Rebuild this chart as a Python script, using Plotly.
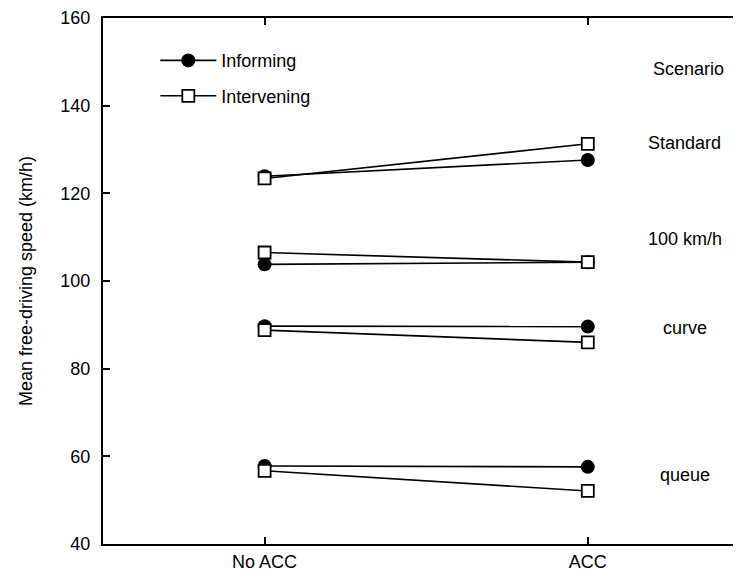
import plotly.graph_objects as go

conditions = ["No ACC", "ACC"]
scenarios = ["Standard", "100 km/h", "curve", "queue"]
informing_no_acc = [123.9, 103.8, 89.7, 57.8]
informing_acc = [127.6, 104.3, 89.6, 57.6]
intervening_no_acc = [123.4, 106.5, 88.8, 56.7]
intervening_acc = [131.3, 104.3, 86.0, 52.1]
scenario_header = "Scenario"
scenario_label_y = [131.5, 109.6, 89.3, 55.7]
header_y = 148.4

def build(no_acc, acc):
    xs, ys = [], []
    for a, b in zip(no_acc, acc):
        xs += [conditions[0], conditions[1], None]
        ys += [a, b, None]
    return xs, ys

FONT = "Liberation Sans, Arial, sans-serif"
fig = go.Figure()
x1, y1 = build(informing_no_acc, informing_acc)
fig.add_trace(go.Scatter(x=x1, y=y1, mode="lines+markers", name="Informing",
                         legendgroup="a",
                         line=dict(color="black", width=1.6),
                         marker=dict(symbol="circle", size=14, color="black",
                                     line=dict(color="black", width=0))))
x2, y2 = build(intervening_no_acc, intervening_acc)
fig.add_trace(go.Scatter(x=x2, y=y2, mode="lines+markers", name="Intervening",
                         legendgroup="b",
                         line=dict(color="black", width=1.6),
                         marker=dict(symbol="square", size=12, color="white",
                                     line=dict(color="black", width=1.8))))

annotations = [dict(x=0.917, y=header_y, xref="paper", yref="y", text=scenario_header,
                    showarrow=False, xanchor="center", yanchor="middle",
                    font=dict(family=FONT, size=18, color="black"))]
for s, yy in zip(scenarios, scenario_label_y):
    annotations.append(dict(x=0.912, y=yy, xref="paper", yref="y", text=s,
                            showarrow=False, xanchor="center", yanchor="middle",
                            font=dict(family=FONT, size=18, color="black")))

fig.update_layout(
    width=733, height=572,
    margin=dict(l=95, r=0, t=10, b=36),
    plot_bgcolor="white", paper_bgcolor="white",
    font=dict(family=FONT, size=18, color="black"),
    showlegend=True,
    legend=dict(x=0.082, y=0.954, xanchor="left", yanchor="top",
                bgcolor="rgba(0,0,0,0)", traceorder="grouped", tracegroupgap=9,
                font=dict(family=FONT, size=18, color="black"),
                itemwidth=56),
    annotations=annotations,
    xaxis=dict(type="category", range=[-0.5, 1.474], showgrid=False, zeroline=False,
               showline=True, linecolor="black", linewidth=2, mirror="ticks",
               ticks="inside", ticklen=7, tickwidth=1.5, tickcolor="black",
               tickfont=dict(family=FONT, size=18)),
    yaxis=dict(range=[40, 160], dtick=20, showgrid=False, zeroline=False,
               showline=True, linecolor="black", linewidth=2,
               ticks="inside", ticklen=7, tickwidth=1.5, tickcolor="black",
               ticklabelstandoff=7,
               tickfont=dict(family=FONT, size=18),
               title=dict(text="Mean free-driving speed (km/h)",
                          font=dict(family=FONT, size=18), standoff=23)),
)
fig.write_html("out.html")
